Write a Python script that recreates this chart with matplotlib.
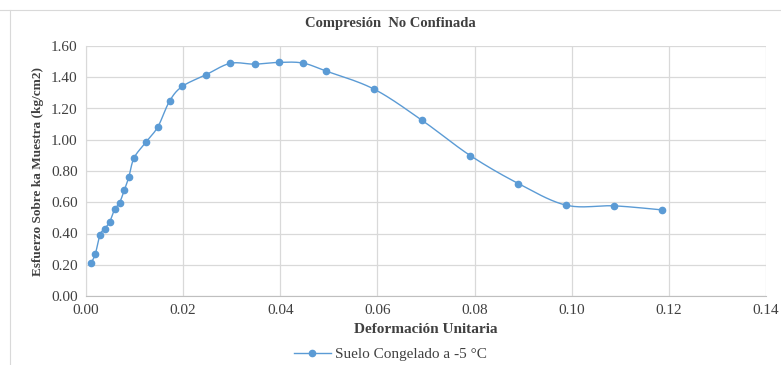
import numpy as np
import matplotlib.pyplot as plt
from matplotlib.lines import Line2D

# deformacion unitaria vs esfuerzo (kg/cm2)
deformacion = [0.0010, 0.0019, 0.0029, 0.0039, 0.0049, 0.0059, 0.0069, 0.0079,
               0.0088, 0.0099, 0.0123, 0.0148, 0.0172, 0.0198, 0.0247, 0.0297,
               0.0347, 0.0397, 0.0446, 0.0494, 0.0593, 0.0692, 0.0791, 0.0890,
               0.0989, 0.1088, 0.1186]
esfuerzo = [0.21, 0.267, 0.393, 0.432, 0.476, 0.555, 0.596, 0.679,
            0.76, 0.884, 0.983, 1.083, 1.247, 1.341, 1.416, 1.489,
            1.484, 1.495, 1.491, 1.44, 1.324, 1.124, 0.899, 0.72,
            0.581, 0.577, 0.551]

color = '#5B9BD5'


def catmull_rom(x, y, n=20):
    # curva suavizada tipo Excel entre los puntos medidos
    p = np.column_stack([x, y])
    p = np.vstack([p[0], p, p[-1]])
    out = []
    for i in range(1, len(p) - 2):
        p0, p1, p2, p3 = p[i - 1], p[i], p[i + 1], p[i + 2]
        t = np.linspace(0, 1, n)[:, None]
        seg = 0.5 * ((2 * p1) + (-p0 + p2) * t + (2 * p0 - 5 * p1 + 4 * p2 - p3) * t ** 2
                     + (-p0 + 3 * p1 - 3 * p2 + p3) * t ** 3)
        out.append(seg)
    out = np.vstack(out)
    return out[:, 0], out[:, 1]


plt.rcParams['font.family'] = 'Liberation Serif'

fig = plt.figure(figsize=(7.81, 3.65), dpi=100)
ax = fig.add_axes([86 / 781, 1 - 296 / 365, (766 - 86) / 781, (296 - 46) / 365])

sx, sy = catmull_rom(np.array(deformacion), np.array(esfuerzo))
ax.plot(sx, sy, color=color, lw=1.0, zorder=3)
ax.plot(deformacion, esfuerzo, 'o', color=color, ms=4.5, zorder=4)

ax.set_xlim(0, 0.14)
ax.set_ylim(0, 1.6)
ax.set_xticks(np.arange(0, 0.141, 0.02))
ax.set_yticks(np.arange(0, 1.61, 0.2))
ax.set_xticklabels(['%.2f' % v for v in np.arange(0, 0.141, 0.02)])
ax.set_yticklabels(['%.2f' % v for v in np.arange(0, 1.61, 0.2)])
ax.grid(True, color='#D9D9D9', lw=0.9)
ax.set_axisbelow(True)
for s in ['top', 'right']:
    ax.spines[s].set_visible(False)
ax.spines['left'].set_color('#D9D9D9')
ax.spines['bottom'].set_color('#BFBFBF')
ax.tick_params(length=0, labelsize=11, colors='#404040', pad=6)

ax.set_xlabel('Deformación Unitaria', fontsize=11, fontweight='bold', color='#404040', labelpad=4)
ax.set_ylabel('Esfuerzo Sobre ka Muestra (kg/cm2)', fontsize=9.5, fontweight='bold',
              color='#404040', labelpad=5)
fig.text(0.5, 1 - 23 / 365, 'Compresión  No Confinada', ha='center', va='center',
         fontsize=10.5, fontweight='bold', color='#404040')

h = Line2D([], [], color=color, marker='o', ms=4.5, lw=1.0)
fig.legend([h], ['Suelo Congelado a -5 °C'], loc='center', bbox_to_anchor=(0.5, 1 - 354 / 365),
           frameon=False, fontsize=11, handlelength=2.4, handletextpad=0.3, labelcolor='#404040')

# borde del area del grafico
fig.add_artist(Line2D([0, 1], [1 - 10 / 365, 1 - 10 / 365], color='#D9D9D9', lw=0.8))
fig.add_artist(Line2D([10 / 781, 10 / 781], [0, 1 - 10 / 365], color='#D9D9D9', lw=0.8))

fig.savefig('out.png', dpi=100)
